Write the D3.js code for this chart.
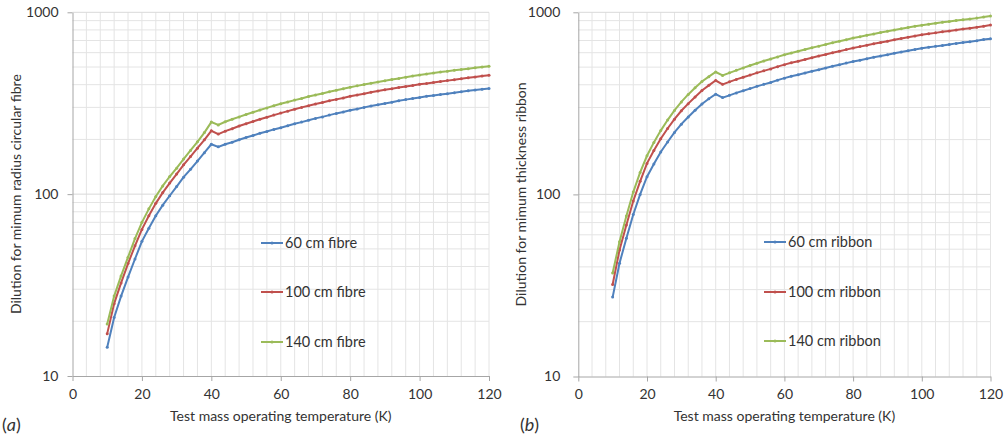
<!DOCTYPE html>
<html>
<head>
<meta charset="utf-8">
<script src="https://cdn.jsdelivr.net/npm/d3@7"></script>
<style>
  body { margin: 0; background: #fff; }
  svg text { font-family: Lato, "Open Sans", sans-serif; fill: #333; }
</style>
</head>
<body>
<svg id="chart" width="1004" height="439"></svg>
<script>
// temperatures (K), one point every 2 K
const temps = [10,12,14,16,18,20,22,24,26,28,30,32,34,36,38,40,42,44,46,48,50,52,54,56,58,60,
  62,64,66,68,70,72,74,76,78,80,82,84,86,88,90,92,94,96,98,100,102,104,106,108,110,112,114,116,118,120];

// (a) circular fibre
const fibre60 = [14.4,21,27.5,35,44,55,65,76,87,98,110,124,137,152,169,188,182,188,193,199,205,210,216,221,227,232,
  238,244,249,255,261,266,272,278,283,289,294,300,305,310,315,320,326,331,336,340,345,349,353,357,361,366,370,374,378,381];
const fibre100 = [17.1,25,32.5,41.5,52,64,76,89,102,115,129,145,161,179,199,223,214,222,229,237,244,251,258,265,272,279,
  286,293,300,306,313,319,326,332,338,345,351,357,363,369,375,380,386,391,396,402,406,411,416,421,426,431,436,441,446,451];
const fibre140 = [19.3,27.5,35.5,45,57,70,83,97,111,125,139,156,174,194,218,249,240,250,258,266,274,282,290,298,306,314,
  321,329,336,344,351,358,366,373,380,387,394,401,407,414,420,427,433,440,446,452,458,463,469,474,480,485,490,495,500,505];

// (b) thickness ribbon
const ribbon60 = [27.3,41.9,57.5,77.6,100,125,147,171,194,219,243,266,290,314,335,355,340,350,361,371,381,392,402,412,424,435,
  445,454,464,474,484,494,505,515,526,537,546,556,566,575,585,596,605,615,625,634,642,650,658,666,675,682,690,698,708,716];
const ribbon100 = [32,49.5,68,92,118,148,174,202,230,259,288,315,343,372,397,422,402,415,428,440,452,465,477,489,503,516,
  528,539,551,563,575,587,599,611,624,637,648,660,671,683,694,707,718,729,741,752,762,771,781,790,800,809,818,827,839,851];
const ribbon140 = [37,55,76,103,132,163,193,224,256,289,322,354,385,417,443,470,450,465,480,495,510,525,540,554,569,584,
  598,611,625,639,652,666,680,693,707,722,735,748,761,774,787,800,812,825,838,850,861,871,881,891,901,910,920,929,941,955];

const xTicks = [0, 20, 40, 60, 80, 100, 120];
const yTicks = [10, 100, 1000];
const colors = ["#4f81bd", "#c0504d", "#9bbb59"];
const fibreNames = ["60 cm fibre", "100 cm fibre", "140 cm fibre"];
const ribbonNames = ["60 cm ribbon", "100 cm ribbon", "140 cm ribbon"];

const svg = d3.select("#chart");

function drawPanel(p) {
  const x = d3.scaleLinear().domain([0, 120]).range([p.left, p.right]);
  const y = d3.scaleLog().domain([10, 1000]).range([p.bottom, p.top]);

  // grid
  const grid = svg.append("g");
  grid.selectAll("line.v")
    .data(d3.range(4, 121, 4))
    .enter().append("line")
    .attr("x1", d => x(d)).attr("x2", d => x(d))
    .attr("y1", p.top).attr("y2", p.bottom)
    .attr("stroke", "#e4e4e4").attr("stroke-width", 1);
  grid.selectAll("line.h")
    .data(y.ticks().filter(d => d > 10))
    .enter().append("line")
    .attr("x1", p.left).attr("x2", p.right)
    .attr("y1", d => y(d)).attr("y2", d => y(d))
    .attr("stroke", d => yTicks.includes(d) ? "#d9d9d9" : "#e4e4e4").attr("stroke-width", 1);

  // axes
  const gx = svg.append("g")
    .attr("transform", `translate(0,${p.bottom})`)
    .call(d3.axisBottom(x).tickValues(xTicks).tickSize(5).tickSizeOuter(0).tickPadding(8));
  const gy = svg.append("g")
    .attr("transform", `translate(${p.left},0)`)
    .call(d3.axisLeft(y).tickValues(yTicks).tickSize(5).tickSizeOuter(0).tickPadding(p.yPad).tickFormat(d3.format("d")));
  [gx, gy].forEach(g => {
    g.selectAll("path, line").attr("stroke", "#a6a6a6");
    g.selectAll("text").style("font-size", "14px").attr("fill", "#333");
  });

  // series
  const line = d3.line().x((d, i) => x(temps[i])).y(d => y(d));
  p.series.forEach((s, k) => {
    svg.append("path")
      .datum(s)
      .attr("d", line)
      .attr("fill", "none")
      .attr("stroke", colors[k])
      .attr("stroke-width", 2);
    svg.append("g").selectAll("circle")
      .data(s)
      .enter().append("circle")
      .attr("cx", (d, i) => x(temps[i]))
      .attr("cy", d => y(d))
      .attr("r", 1.5)
      .attr("fill", colors[k]);
  });

  // legend
  p.names.forEach((name, k) => {
    const ly = p.legendY[k];
    svg.append("line")
      .attr("x1", p.legendX).attr("x2", p.legendX + 22)
      .attr("y1", ly).attr("y2", ly)
      .attr("stroke", colors[k]).attr("stroke-width", 2);
    svg.append("circle")
      .attr("cx", p.legendX + 11).attr("cy", ly).attr("r", 1.5)
      .attr("fill", colors[k]);
    svg.append("text")
      .attr("x", p.legendX + 24).attr("y", ly).attr("dy", "0.35em")
      .style("font-size", "14.5px")
      .text(name);
  });

  // axis titles
  svg.append("text")
    .attr("x", (p.left + p.right) / 2).attr("y", 416).attr("dy", "0.35em")
    .attr("text-anchor", "middle")
    .style("font-size", "14px")
    .text("Test mass operating temperature (K)");
  svg.append("text")
    .attr("transform", `translate(${p.titleX},${(p.top + p.bottom) / 2}) rotate(-90)`)
    .attr("text-anchor", "middle")
    .style("font-size", "14px")
    .text(p.yTitle);

  // panel label
  const lab = svg.append("text")
    .attr("x", p.labelX).attr("y", 425).attr("dy", "0.35em")
    .style("font-size", "18px");
  lab.append("tspan").text("(");
  lab.append("tspan").style("font-style", "italic").text(p.label);
  lab.append("tspan").text(")");
}

drawPanel({
  left: 72.5, right: 489, top: 12.3, bottom: 376, yPad: 9,
  series: [fibre60, fibre100, fibre140], names: fibreNames,
  legendX: 261, legendY: [243, 292, 342],
  titleX: 21, yTitle: "Dilution  for mimum radius circular fibre",
  labelX: 2, label: "a"
});
drawPanel({
  left: 578.3, right: 990.5, top: 12.3, bottom: 376.5, yPad: 13,
  series: [ribbon60, ribbon100, ribbon140], names: ribbonNames,
  legendX: 764, legendY: [242, 292, 341],
  titleX: 526, yTitle: "Dilution  for mimum thickness ribbon",
  labelX: 520, label: "b"
});
</script>
</body>
</html>
